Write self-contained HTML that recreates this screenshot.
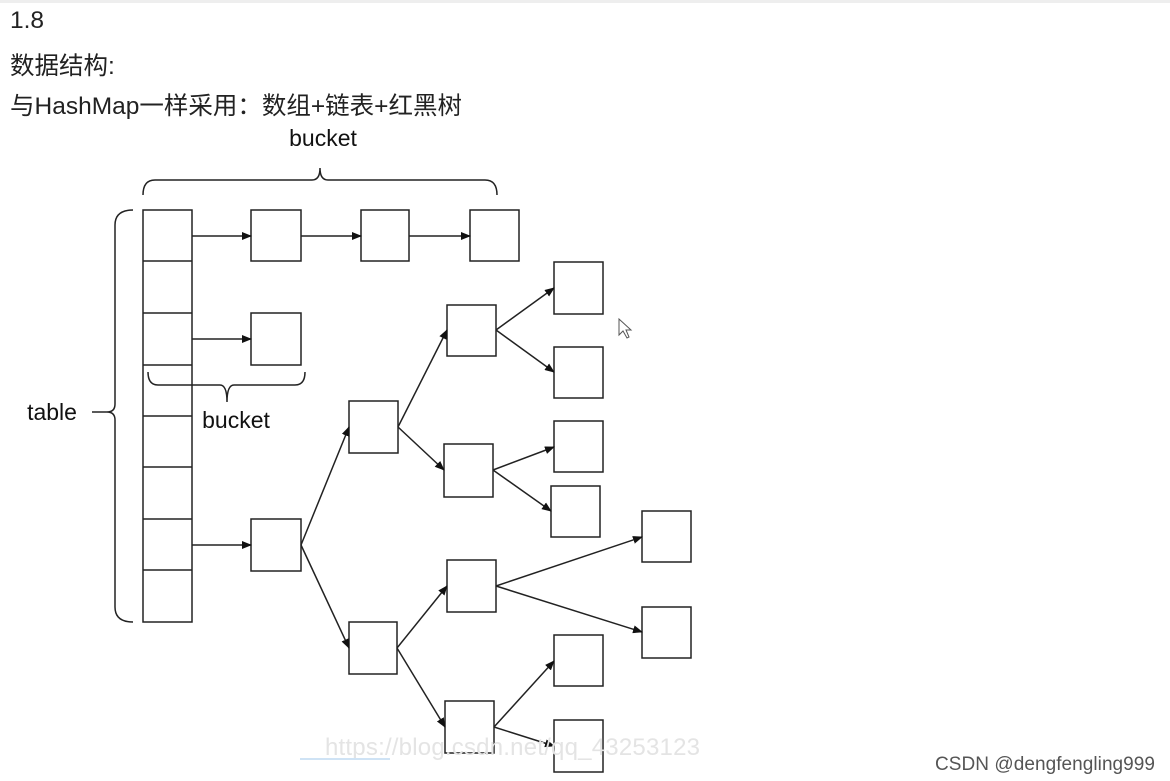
<!DOCTYPE html>
<html><head><meta charset="utf-8"><style>
body{margin:0;background:#fff;width:1170px;height:781px;overflow:hidden;position:relative;font-family:"Liberation Sans","Noto Sans CJK SC",sans-serif}
.t{position:absolute;left:10px;font-size:24.5px;color:#222}
</style></head><body>
<div style="position:absolute;left:0;top:0;width:1170px;height:3px;background:#eee"></div>
<div class="t" style="top:7px">1.8</div>
<div class="t" style="top:47px">数据结构:</div>
<div class="t" style="top:87px">与HashMap一样采用：数组+链表+红黑树</div>
<svg width="1170" height="781" style="position:absolute;left:0;top:0" xmlns="http://www.w3.org/2000/svg">
<defs><marker id="a" markerWidth="10" markerHeight="8" refX="9" refY="4" orient="auto" markerUnits="userSpaceOnUse"><path d="M0,0 L10,4 L0,8z" fill="#111"/></marker></defs>
<g font-family="Liberation Sans, sans-serif" font-size="23" fill="#111">
<text x="323" y="146" text-anchor="middle">bucket</text>
<text x="236" y="428" text-anchor="middle">bucket</text>
<text x="52" y="420" text-anchor="middle">table</text>
</g>
<g fill="none" stroke="#222" stroke-width="1.5">
<path d="M143,195 Q143,180 155,180 L312,180 Q320,180 320,168 Q320,180 328,180 L485,180 Q497,180 497,195"/>
<path d="M148,372 Q148,385 158,385 L220,385 Q227,385 227,402 Q227,385 234,385 L295,385 Q305,385 305,372"/>
<path d="M133,210 Q115,210 115,225 L115,404 Q115,412 107,412 Q115,412 115,420 L115,607 Q115,622 133,622"/>
<path d="M92,412 L107,412"/>
<rect x="143" y="210" width="49" height="412"/>
<path d="M143,261H192M143,313H192M143,365H192M143,416H192M143,467H192M143,519H192M143,570H192"/>
<rect x="251" y="210" width="50" height="51"/><rect x="361" y="210" width="48" height="51"/><rect x="470" y="210" width="49" height="51"/>
<rect x="251" y="313" width="50" height="52"/>
<rect x="251" y="519" width="50" height="52"/>
<rect x="349" y="401" width="49" height="52"/><rect x="349" y="622" width="48" height="52"/>
<rect x="447" y="305" width="49" height="51"/><rect x="444" y="444" width="49" height="53"/>
<rect x="447" y="560" width="49" height="52"/><rect x="445" y="701" width="49" height="52"/>
<rect x="554" y="262" width="49" height="52"/><rect x="554" y="347" width="49" height="51"/>
<rect x="554" y="421" width="49" height="51"/><rect x="551" y="486" width="49" height="51"/>
<rect x="642" y="511" width="49" height="51"/><rect x="642" y="607" width="49" height="51"/>
<rect x="554" y="635" width="49" height="51"/><rect x="554" y="720" width="49" height="52"/>
</g>
<g stroke="#222" stroke-width="1.5" marker-end="url(#a)">
<line x1="192" y1="236" x2="251" y2="236"/><line x1="301" y1="236" x2="361" y2="236"/><line x1="409" y1="236" x2="470" y2="236"/>
<line x1="192" y1="339" x2="251" y2="339"/><line x1="192" y1="545" x2="251" y2="545"/>
<line x1="301" y1="545" x2="349" y2="427"/><line x1="301" y1="545" x2="349" y2="648"/>
<line x1="398" y1="427" x2="447" y2="330"/><line x1="398" y1="427" x2="444" y2="470"/>
<line x1="397" y1="648" x2="447" y2="586"/><line x1="397" y1="648" x2="445" y2="727"/>
<line x1="496" y1="330" x2="554" y2="288"/><line x1="496" y1="330" x2="554" y2="372"/>
<line x1="493" y1="470" x2="554" y2="447"/><line x1="493" y1="470" x2="551" y2="511"/>
<line x1="496" y1="586" x2="642" y2="537"/><line x1="496" y1="586" x2="642" y2="632"/>
<line x1="494" y1="727" x2="554" y2="661"/><line x1="494" y1="727" x2="554" y2="746"/>
</g>
<path d="M619,319 L619,335 L623,331 L627,338 L629,337 L626,330 L631,330z" fill="#fff" stroke="#555" stroke-width="1"/>
<text x="325" y="755" font-family="Liberation Sans, sans-serif" font-size="24" fill="#e4e4e4" textLength="375">https://blog.csdn.net/qq_43253123</text>
<line x1="300" y1="759" x2="390" y2="759" stroke="#cfe3f5" stroke-width="2"/>
<text x="1155" y="770" text-anchor="end" font-family="Liberation Sans, sans-serif" font-size="19" fill="#555" textLength="220">CSDN @dengfengling999</text>
</svg>
</body></html>
